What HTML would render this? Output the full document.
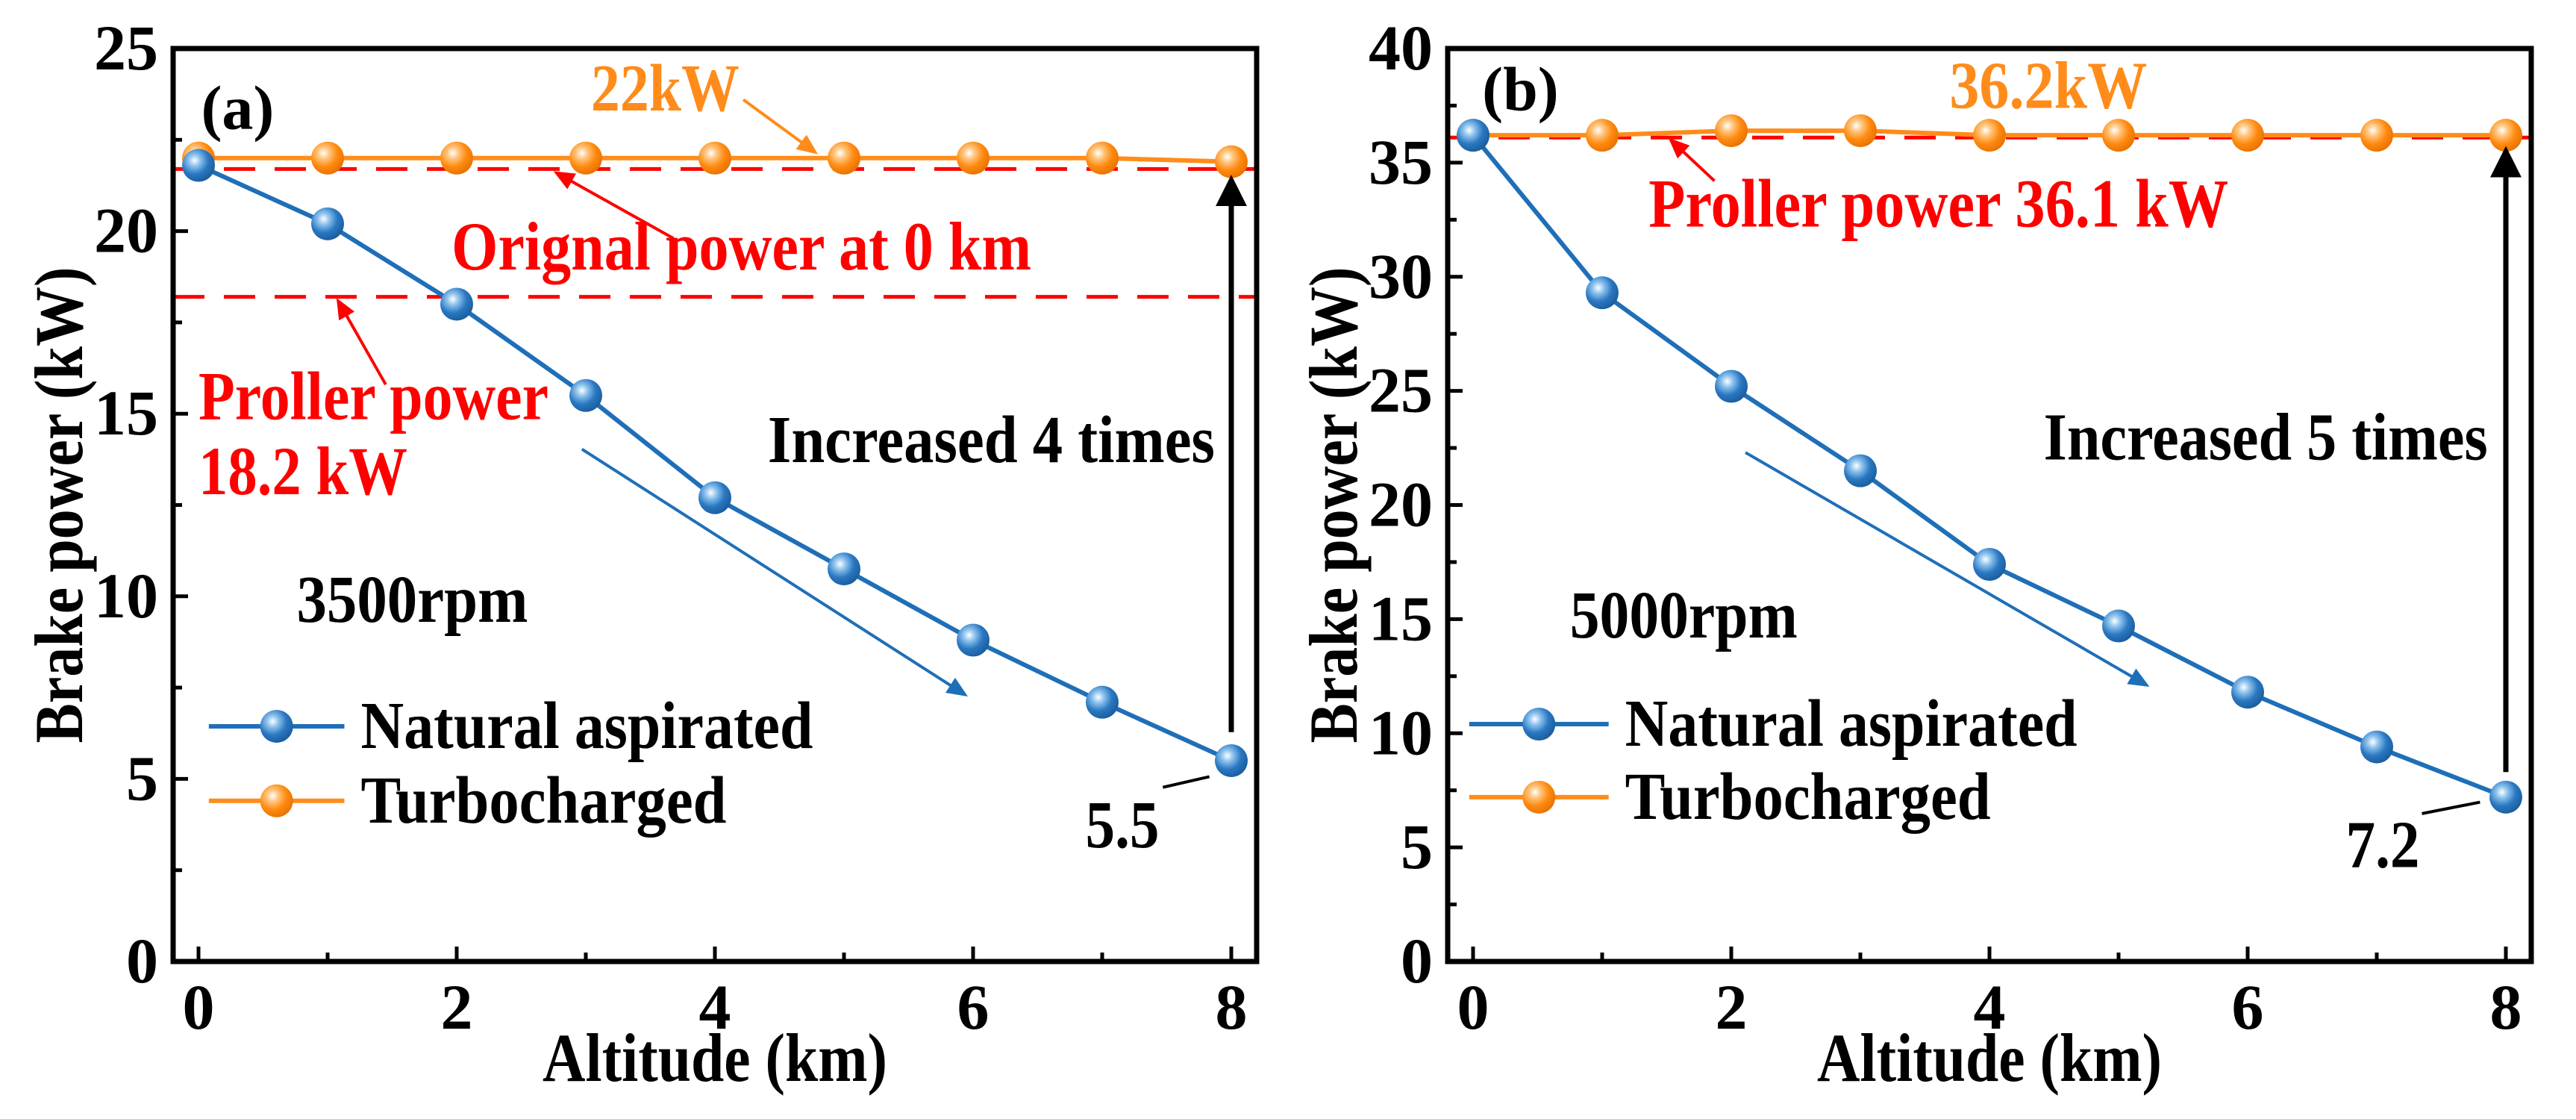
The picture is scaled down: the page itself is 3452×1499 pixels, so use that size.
<!DOCTYPE html>
<html><head><meta charset="utf-8"><style>
html,body{margin:0;padding:0;background:#fff;}
svg text{font-family:"Liberation Serif","Times New Roman",serif;font-weight:bold;}
</style></head><body>
<svg id="fig" width="3452" height="1494" viewBox="0 0 3452 1494" xmlns="http://www.w3.org/2000/svg" font-family="Liberation Serif, serif" font-weight="bold">
<defs>
<radialGradient id="gb" cx="0.38" cy="0.35" r="0.7"><stop offset="0" stop-color="#ffffff"/><stop offset="0.25" stop-color="#8ec3ee"/><stop offset="0.6" stop-color="#2a78c2"/><stop offset="1" stop-color="#1a5a9a"/></radialGradient>
<radialGradient id="go" cx="0.38" cy="0.35" r="0.7"><stop offset="0" stop-color="#ffffff"/><stop offset="0.25" stop-color="#ffc680"/><stop offset="0.6" stop-color="#ff8a10"/><stop offset="1" stop-color="#e67000"/></radialGradient>
<marker id="ahK" markerWidth="6" markerHeight="6" refX="5" refY="3" orient="auto" markerUnits="strokeWidth"><path d="M0,0 L6,3 L0,6 Z" fill="#000"/></marker>
<marker id="ahR" markerWidth="7" markerHeight="6" refX="6" refY="3" orient="auto" markerUnits="strokeWidth"><path d="M0,0 L7,3 L0,6 Z" fill="#f00"/></marker>
<marker id="ahO" markerWidth="7" markerHeight="6" refX="6" refY="3" orient="auto" markerUnits="strokeWidth"><path d="M0,0 L7,3 L0,6 Z" fill="#ff8c1a"/></marker>
<marker id="ahB" markerWidth="7" markerHeight="6" refX="6" refY="3" orient="auto" markerUnits="strokeWidth"><path d="M0,0 L7,3 L0,6 Z" fill="#1f6fb8"/></marker>
</defs>
</svg>
<script>
const altitudes = [0,1,2,3,4,5,6,7,8];
const naturalA = [21.8,20.2,18.0,15.5,12.7,10.75,8.8,7.1,5.5];
const turboA = [22,22,22,22,22,22,22,22,21.9];
const naturalB = [36.2,29.3,25.2,21.5,17.4,14.7,11.8,9.4,7.2];
const turboB = [36.2,36.2,36.4,36.4,36.2,36.2,36.2,36.2,36.2];
const yTicksA = [0,5,10,15,20,25];
const yTicksB = [0,5,10,15,20,25,30,35,40];
const xTicks = [0,2,4,6,8];
const refLinesA = [21.7,18.2];
const refLinesB = [36.1];

const NS='http://www.w3.org/2000/svg';
const svg=document.getElementById('fig');
const FF='Liberation Serif, Times New Roman, serif';
function mk(tag,attrs,parent,text){const e=document.createElementNS(NS,tag);for(const k in attrs)e.setAttribute(k,attrs[k]);if(tag==='text'){e.setAttribute('font-family',FF);e.setAttribute('font-weight','bold');}if(text!==undefined)e.textContent=text;(parent||svg).appendChild(e);return e;}
function fit(e,len){e.setAttribute('textLength',len);e.setAttribute('lengthAdjust','spacingAndGlyphs');}

function panel(o){
  const g=mk('g',{});
  
  
  const L=o.left,R=o.right,T=65,B=1288;
  const X=v=>L+34+173*v;
  const Y=v=>B-(v/o.ymax)*(B-T);
  o.yTicks.forEach((t,i)=>{
    const tk=mk('line',{x1:L,x2:L+20,y1:Y(t),y2:Y(t),stroke:'#000','stroke-width':5},g);
    
    
    if(i<o.yTicks.length-1){const m=(t+o.yTicks[i+1])/2;
      const mt=mk('line',{x1:L,x2:L+12,y1:Y(m),y2:Y(m),stroke:'#000','stroke-width':5},g);
      
      }
    const lb=mk('text',{x:L-20,y:Y(t)+28,'text-anchor':'end','font-size':86},g,String(t));
    
    
  });
  altitudes.forEach(a=>{
    const major=xTicks.indexOf(a)>=0;
    const tk=mk('line',{x1:X(a),x2:X(a),y1:B,y2:B-(major?20:12),stroke:'#000','stroke-width':5},g);
    
    
  });
  xTicks.forEach(t=>{
    const lb=mk('text',{x:X(t),y:1378,'text-anchor':'middle','font-size':86},g,String(t));
    
    
  });
  const xt=mk('text',{x:(L+R)/2-231,y:1448,'font-size':92},g,'Altitude (km)');
  fit(xt,462);
  
  
  const yt=mk('text',{x:-319,y:0,'font-size':92,transform:`translate(${L-122},${(T+B)/2}) rotate(-90)`},g,'Brake power (kW)');
  fit(yt,638);
  
  
  o.refs.forEach(r=>{
    const rl=mk('line',{x1:L,x2:R,y1:Y(r),y2:Y(r),stroke:'#f00','stroke-width':5,'stroke-dasharray':'42 26'},g);
    
    
  });
  function series(vals,color,grad,nm){
    const pl=mk('polyline',{points:altitudes.map((a,i)=>X(a)+','+Y(vals[i])).join(' '),fill:'none',stroke:color,'stroke-width':6},g);
    
    
    altitudes.forEach((a,i)=>{
      const c=mk('circle',{cx:X(a),cy:Y(vals[i]),r:22,fill:`url(#${grad})`},g);
      
      
    });
  }
  series(o.turbo,'#ff8c1a','go','turbocharged');
  series(o.nat,'#1f6fb8','gb','natural-aspirated');
  [[o.leg[0],'#1f6fb8','gb','Natural aspirated','legend-natural-aspirated',606],[o.leg[1],'#ff8c1a','go','Turbocharged','legend-turbocharged',490]].forEach(e=>{
    const lg=mk('g',{},g);
    
    
    const y=Y(e[0]);
    mk('line',{x1:X(o.legX[0]),x2:X(o.legX[1]),y1:y,y2:y,stroke:e[1],'stroke-width':6},lg);
    mk('circle',{cx:X((o.legX[0]+o.legX[1])/2),cy:y,r:22,fill:`url(#${e[2]})`},lg);
    const t=mk('text',{x:X(o.legX[1])+22,y:y+29,'font-size':90},lg,e[3]);
    fit(t,e[5]);
  });
  o.texts.forEach(t=>{
    const tx=mk('text',{x:X(t[0]),y:Y(t[1]),'font-size':t[4]||82,fill:t[2]},g,t[3]);
    if(t[6])fit(tx,t[6]);
    
    
  });
  o.arrows.forEach(a=>{
    const ar=mk('line',{x1:X(a[0]),y1:Y(a[1]),x2:X(a[2]),y2:Y(a[3]),stroke:a[4],'stroke-width':a[6]||4,'marker-end':a[5]?`url(#${a[5]})`:''},g);
    
    
  });
  const fr=mk('rect',{x:L,y:T,width:R-L,height:B-T,fill:'none',stroke:'#000','stroke-width':7},g);
  
  
}

panel({name:'panel-a',left:232,right:1684,ymax:25,yTicks:yTicksA,nat:naturalA,turbo:turboA,refs:refLinesA,
  leg:[6.44,4.4],legX:[0.08,1.13],
  texts:[[0.02,22.8,'#000','(a)',84,'panel-label-a',0],[3.04,23.3,'#ff8c1a','22kW',90,'turbo-label-22kw',199],
   [1.96,18.95,'#f00','Orignal power at 0 km',92,'original-power-label',777],[0,14.85,'#f00','Proller power',92,'proller-power-label',469],
   [0,12.8,'#f00','18.2 kW',92,'proller-power-value',280],[4.41,13.68,'#000','Increased 4 times',90,'increase-label',599],
   [0.76,9.3,'#000','3500rpm',90,'rpm-label',310],[6.87,3.13,'#000','5.5',90,'end-value-label',99]],
  arrows:[[4.22,23.6,4.78,22.15,'#ff8c1a','ahO',4,'arrow-22kw'],[3.68,19.8,2.77,21.6,'#f00','ahR',4,'arrow-original-power'],
   [1.45,15.8,1.08,18.1,'#f00','ahR',4,'arrow-proller-power'],[8,6.28,8,21.4,'#000','ahK',7,'arrow-increase'],
   [2.97,14.03,5.94,7.3,'#1f6fb8','ahB',4,'trend-arrow'],[7.47,4.77,7.83,5.06,'#000','',4,'end-value-leader']]
});
panel({name:'panel-b',left:1940,right:3392,ymax:40,yTicks:yTicksB,nat:naturalB,turbo:turboB,refs:refLinesB,
  leg:[10.4,7.2],legX:[-0.03,1.05],
  texts:[[0.07,37.3,'#000','(b)',84,'panel-label-b',0],[3.69,37.4,'#ff8c1a','36.2kW',90,'turbo-label-36kw',265],
   [1.36,32.2,'#f00','Proller power 36.1 kW',92,'proller-power-label',777],[4.42,22.0,'#000','Increased 5 times',90,'increase-label',595],
   [0.75,14.2,'#000','5000rpm',90,'rpm-label',305],[6.76,4.14,'#000','7.2',90,'end-value-label',99]],
  arrows:[[1.87,34.2,1.53,36.0,'#f00','ahR',4,'arrow-proller-power'],[8,8.3,8,35.5,'#000','ahK',7,'arrow-increase'],
   [2.11,22.3,5.22,12.1,'#1f6fb8','ahB',4,'trend-arrow'],[7.35,6.48,7.8,6.98,'#000','',4,'end-value-leader']]
});
</script>
</body></html>
